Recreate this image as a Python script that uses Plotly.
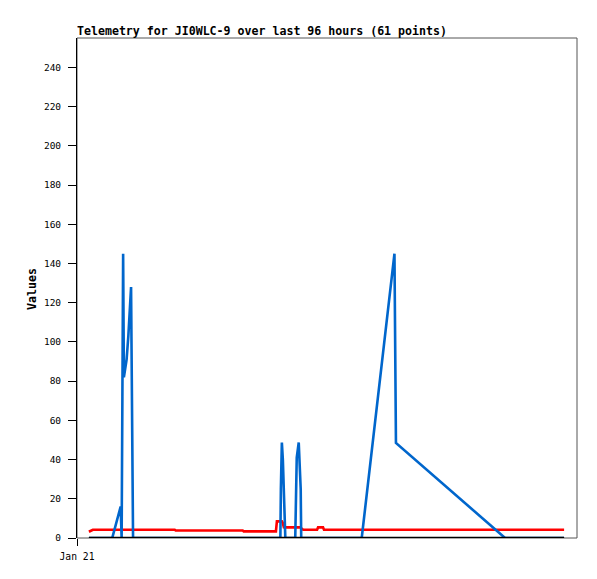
import pandas as pd
import plotly.graph_objects as go

# ---- data (hours after Jan 21 00:00) ----
hours = [2.4, 3.2, 4.6, 6.0, 7.1, 8.8, 9.0, 9.15, 9.3, 9.45,
         10.0, 10.35, 10.7, 10.9, 11.0, 11.15, 11.3, 14.0, 17.0, 19.7,
         19.9, 25.0, 30.0, 33.4, 33.6, 38.0, 40.1, 40.3, 41.0, 41.1,
         41.3, 41.5, 41.7, 42.0, 44.0, 44.1, 44.3, 44.7, 44.9, 45.1,
         45.2, 45.6, 48.4, 48.6, 49.6, 49.8, 53.0, 57.4, 64.0, 64.1,
         64.3, 86.3, 88.0, 89.5, 91.0, 92.5, 94.0, 95.5, 96.5, 97.5,
         98.2]

blue_vals = [0, 0, 0, 0, 0, 16, 0, 72, 145, 82,
             91, 103, 123, 128, 96, 32, 0, 0, 0, 0,
             0, 0, 0, 0, 0, 0, 0, 0, 0, 25,
             48.7, 40, 25, 0, 0, 25, 41, 48.7, 37, 25,
             0, 0, 0, 0, 0, 0, 0, 0, 145, 89,
             48.5, 0, 0, 0, 0, 0, 0, 0, 0, 0,
             0]

red_vals = [3.2, 4.2, 4.2, 4.2, 4.2, 4.2, 4.2, 4.2, 4.2, 4.2,
            4.2, 4.2, 4.2, 4.2, 4.2, 4.2, 4.2, 4.2, 4.2, 4.2,
            3.8, 3.8, 3.8, 3.8, 3.4, 3.4, 3.4, 8.5, 8.5, 8.5,
            8.5, 7.6, 5.5, 5.4, 5.4, 5.4, 5.4, 5.4, 5.4, 5.4,
            5.0, 4.2, 4.2, 5.4, 5.4, 4.2, 4.2, 4.2, 4.2, 4.2,
            4.2, 4.2, 4.2, 4.2, 4.2, 4.2, 4.2, 4.2, 4.2, 4.2,
            4.2]

black_vals = [0] * len(hours)

y_ticks = [0, 20, 40, 60, 80, 100, 120, 140, 160, 180, 200, 220, 240]
x_tick_label = "Jan 21"
title_text = "Telemetry for JI0WLC-9 over last 96 hours (61 points)"

base = pd.Timestamp("2025-01-21 00:00")
times = [base + pd.Timedelta(hours=h) for h in hours]

MONO = "DejaVu Sans Mono"

fig = go.Figure()
fig.add_trace(go.Scatter(x=times, y=red_vals, mode="lines",
                         line=dict(color="#ff0000", width=2.6), showlegend=False))
fig.add_trace(go.Scatter(x=times, y=blue_vals, mode="lines",
                         line=dict(color="#0066cc", width=2.6), showlegend=False))
fig.add_trace(go.Scatter(x=times, y=black_vals, mode="lines",
                         line=dict(color="#000000", width=2.6), showlegend=False))

fig.update_layout(
    width=597, height=579,
    margin=dict(l=69, r=28, t=30, b=49),
    paper_bgcolor="white", plot_bgcolor="white",
    title=dict(text=title_text, x=69/597, xanchor="left", xref="container",
               y=1 - 23/579, yanchor="middle", yref="container",
               font=dict(family=MONO, size=11.6, color="black", weight="bold")),
    xaxis=dict(type="date",
               range=[base, base + pd.Timedelta(hours=100.8)],
               tickvals=[base], ticktext=[x_tick_label],
               ticks="outside", ticklen=7, tickcolor="black",
               showgrid=False, zeroline=False, showline=False,
               ticklabelstandoff=2,
               tickfont=dict(family=MONO, size=9.7, color="black")),
    yaxis=dict(range=[0, 255], tickvals=y_ticks,
               ticks="outside", ticklen=8, tickcolor="black",
               showgrid=False, zeroline=False,
               showline=True, linecolor="black", linewidth=1,
               ticklabelstandoff=5,
               tickfont=dict(family=MONO, size=9.5, color="black")),
    shapes=[dict(type="rect", xref="x domain", yref="y domain",
                 x0=0, x1=1, y0=0, y1=1, layer="below",
                 line=dict(color="#555555", width=1))],
    annotations=[dict(text="Values", textangle=-90, xref="paper", yref="paper",
                      x=(32 - 77) / 500, y=(538 - 289) / 500,
                      xanchor="center", yanchor="middle", showarrow=False,
                      font=dict(family=MONO, size=11.6, color="black", weight="bold"))],
)

fig.write_html("out.html")
